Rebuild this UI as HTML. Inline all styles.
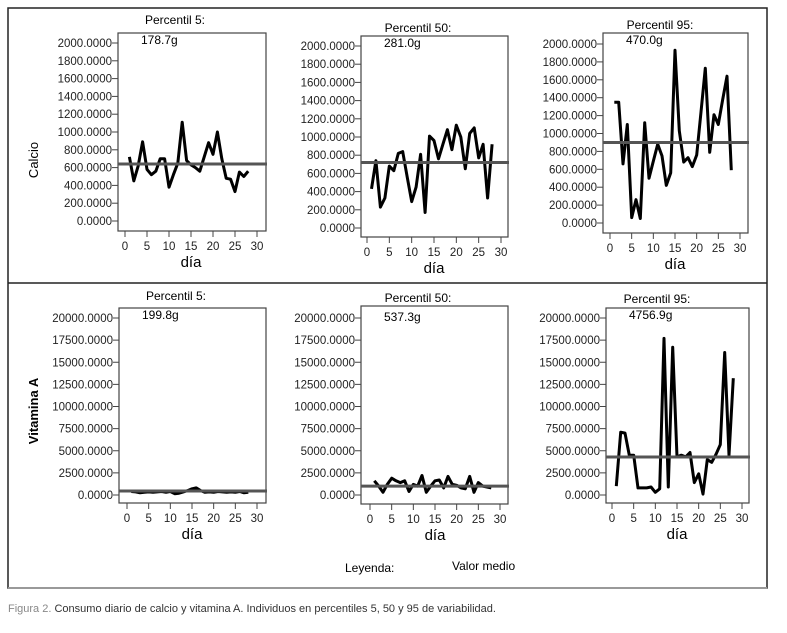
<!DOCTYPE html>
<html><head><meta charset="utf-8">
<style>
html,body{margin:0;padding:0;background:#fff;}
svg{display:block;font-family:"Liberation Sans",sans-serif;}
</style></head>
<body>
<svg id="fig" width="787" height="633" viewBox="0 0 787 633">
<rect x="8" y="8" width="759" height="580" fill="none" stroke="#222" stroke-width="1.5"/>
<line x1="8" y1="283" x2="767" y2="283" stroke="#222" stroke-width="1.5"/>
<line x1="8" y1="588" x2="767" y2="588" stroke="#999" stroke-width="2"/>
<text x="38" y="160" font-size="13" transform="rotate(-90 38 160)" text-anchor="middle">Calcio</text>
<text x="38" y="411" font-size="13" font-weight="bold" transform="rotate(-90 38 411)" text-anchor="middle">Vitamina A</text>
<text x="345" y="572" font-size="12">Leyenda:</text>
<text x="452" y="570" font-size="12">Valor medio</text>
<text x="8" y="612" font-size="11" fill="#333"><tspan fill="#888">Figura 2.</tspan> Consumo diario de calcio y vitamina A. Individuos en percentiles 5, 50 y 95 de variabilidad.</text>
</svg>
<script>
const days = [1,2,3,4,5,6,7,8,9,10,11,12,13,14,15,16,17,18,19,20,21,22,23,24,25,26,27,28];
const xTicks = [0,5,10,15,20,25,30];
const calcioTicks = [0,200,400,600,800,1000,1200,1400,1600,1800,2000];
const vitTicks = [0,2500,5000,7500,10000,12500,15000,17500,20000];
const calcioP5 = [720,450,620,890,580,520,560,700,700,380,520,650,1110,680,630,600,560,720,880,750,1000,700,480,470,330,550,500,560];
const calcioP50 = [430,740,230,330,680,630,820,840,560,290,450,810,170,1010,960,760,920,1080,860,1130,1000,650,1040,1100,770,920,330,920];
const calcioP95 = [1350,1350,660,1100,60,260,50,1120,500,690,880,750,420,560,1930,1030,680,730,630,760,1240,1730,790,1210,1100,1380,1640,590];
const vitP5 = [400,350,250,300,350,300,350,400,300,400,150,200,350,500,700,800,500,300,350,300,400,350,300,350,300,400,250,300];
const vitP50 = [1600,1000,300,1200,1900,1600,1400,1600,400,1200,1000,2200,300,1000,1600,1700,800,2100,1200,1100,800,700,2100,300,1400,1000,900,800];
const vitP95 = [1000,7100,7000,4500,4500,800,800,800,900,300,700,17700,900,16700,4300,4500,4300,4800,1400,2400,100,4000,3700,4600,5700,16100,4500,13200];
const means = [640,720,900,450,1000,4300];
const titles = ["Percentil 5:","Percentil 50:","Percentil 95:","Percentil 5:","Percentil 50:","Percentil 95:"];
const valueLabels = ["178.7g","281.0g","470.0g","199.8g","537.3g","4756.9g"];

const NS="http://www.w3.org/2000/svg";
const svg=document.getElementById('fig');
function mk(tag,attrs,parent){const e=document.createElementNS(NS,tag);for(const k in attrs)e.setAttribute(k,attrs[k]);(parent||svg).appendChild(e);return e;}

const panels=[
 {series:calcioP5,ticks:calcioTicks,max:2000,bx:[118,266],by:[33,231],y0:221,yT:43,x0:125,x30:257,tx:175,ty:24,vy:44,name:'calcio-p5'},
 {series:calcioP50,ticks:calcioTicks,max:2000,bx:[361,508],by:[36,237],y0:228,yT:46,x0:367,x30:501,tx:418,ty:32,vy:47,name:'calcio-p50'},
 {series:calcioP95,ticks:calcioTicks,max:2000,bx:[603,748],by:[33,233],y0:223,yT:44,x0:610,x30:740,tx:660,ty:29,vy:44,name:'calcio-p95'},
 {series:vitP5,ticks:vitTicks,max:20000,bx:[119,266],by:[308,503],y0:495,yT:318,x0:127,x30:257,tx:176,ty:300,vy:319,name:'vitamina-a-p5'},
 {series:vitP50,ticks:vitTicks,max:20000,bx:[361,508],by:[306,504],y0:495,yT:318,x0:370,x30:500,tx:418,ty:302,vy:321,name:'vitamina-a-p50'},
 {series:vitP95,ticks:vitTicks,max:20000,bx:[606,749],by:[308,503],y0:495,yT:318,x0:612,x30:742,tx:657,ty:303,vy:319,name:'vitamina-a-p95'}
];
panels.forEach((p,i)=>{
  const g=mk('g',{});
  
  
  const xs=v=>p.x0+(p.x30-p.x0)*v/30;
  const ys=v=>p.y0-(p.y0-p.yT)*v/p.max;
  const box=mk('rect',{x:p.bx[0],y:p.by[0],width:p.bx[1]-p.bx[0],height:p.by[1]-p.by[0],fill:'none',stroke:'#444','stroke-width':1.2},g);
  
  
  p.ticks.forEach(t=>{
    const y=ys(t);
    mk('line',{x1:p.bx[0]-6,y1:y,x2:p.bx[0],y2:y,stroke:'#444'},g);
    const tl=mk('text',{x:p.bx[0]-6,y:y+4,'font-size':11.5,'text-anchor':'end',fill:'#222'},g);
    tl.textContent=t.toFixed(4);
    
    
  });
  xTicks.forEach(t=>{
    const x=xs(t);
    mk('line',{x1:x,y1:p.by[1],x2:x,y2:p.by[1]+6,stroke:'#444'},g);
    const tl=mk('text',{x:x,y:p.by[1]+19,'font-size':11.5,'text-anchor':'middle',fill:'#222'},g);
    tl.textContent=t;
    
    
  });
  const xl=mk('text',{x:(p.x0+p.x30)/2,y:p.by[1]+36,'font-size':15,'text-anchor':'middle'},g);
  xl.textContent='día';
  
  
  const tt=mk('text',{x:p.tx,y:p.ty,'font-size':12,'text-anchor':'middle'},g);
  tt.textContent=titles[i];
  
  
  const vl=mk('text',{x:p.bx[0]+23,y:p.vy,'font-size':12},g);
  vl.textContent=valueLabels[i];
  
  
  const pts=p.series.map((v,k)=>xs(days[k]).toFixed(1)+','+ys(v).toFixed(1)).join(' ');
  const ln=mk('polyline',{points:pts,fill:'none',stroke:'#000','stroke-width':3,'stroke-linejoin':'round'},g);
  
  
  const my=ys(means[i]);
  const ml=mk('line',{x1:p.bx[0],y1:my,x2:p.bx[1]+1,y2:my,stroke:'#555','stroke-width':3},g);
  
  
});
</script>
</body></html>
